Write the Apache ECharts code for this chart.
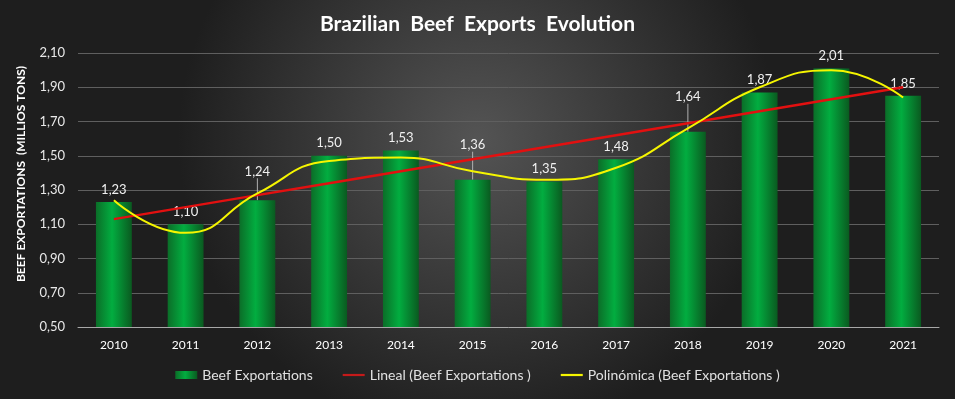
<!DOCTYPE html>
<html>
<head>
<meta charset="utf-8">
<script src="https://cdn.jsdelivr.net/npm/echarts@6/dist/echarts.min.js"></script>
<style>
  html, body { margin: 0; padding: 0; background: #222; }
  #chart { width: 955px; height: 399px; }
</style>
</head>
<body>
<div id="chart"></div>
<script>
var years = ["2010", "2011", "2012", "2013", "2014", "2015", "2016", "2017", "2018", "2019", "2020", "2021"];
var exports = [1.23, 1.10, 1.24, 1.50, 1.53, 1.36, 1.35, 1.48, 1.64, 1.87, 2.01, 1.85];
// trend lines
var linealTrend = [1.13, 1.20, 1.27, 1.34, 1.41, 1.48, 1.55, 1.62, 1.69, 1.76, 1.83, 1.90];
var polyTrend = [1.24, 1.05, 1.28, 1.47, 1.49, 1.41, 1.36, 1.43, 1.66, 1.90, 2.00, 1.84];
var yTicks = [0.5, 0.7, 0.9, 1.1, 1.3, 1.5, 1.7, 1.9, 2.1];

var fmt = function (v) { return Number(v).toFixed(2).replace(".", ","); };
var font = "Lato, 'Open Sans', sans-serif";
var lineIcon = "path://M0 0H30V3H0Z";

// labels that are pushed up with a leader line
var raised = { 2: -16, 5: -22, 8: -22 };

var chart = echarts.init(document.getElementById("chart"));
var barColor = new echarts.graphic.LinearGradient(0, 0, 1, 0, [
  { offset: 0, color: "#0b6e28" },
  { offset: 0.45, color: "#02ad40" },
  { offset: 1, color: "#0a5a20" }
]);

var barData = exports.map(function (v, i) {
  return { value: v, labelLine: { show: raised[i] != null } };
});

var option = {
  backgroundColor: {
    type: "radial", x: 0.5, y: 0.35, r: 0.75,
    colorStops: [
      { offset: 0, color: "#545454" },
      { offset: 1, color: "#1e1e1e" }
    ]
  },
  animation: false,
  title: {
    text: "Brazilian  Beef  Exports  Evolution",
    left: "center",
    top: 9,
    textStyle: { color: "#fff", fontSize: 21, fontWeight: "bold", fontFamily: font }
  },
  graphic: [{
    type: "text",
    x: 21,
    y: 174,
    rotation: Math.PI / 2,
    style: {
      text: "BEEF EXPORTATIONS  (MILLIOS TONS)",
      fill: "#fff",
      font: "bold 12px " + font,
      align: "center",
      verticalAlign: "middle"
    }
  }],
  grid: { left: 78, right: 16, top: 53, bottom: 72 },
  legend: {
    bottom: 12,
    left: "center",
    itemGap: 30,
    itemWidth: 22,
    itemHeight: 8,
    textStyle: { color: "#e0e0e0", fontSize: 14, fontFamily: font },
    data: [
      { name: "Beef Exportations", icon: "rect" },
      { name: "Lineal (Beef Exportations )", icon: lineIcon },
      { name: "Polinómica (Beef Exportations )", icon: lineIcon }
    ]
  },
  xAxis: {
    type: "category",
    data: years,
    axisTick: { show: false },
    axisLine: { lineStyle: { color: "#a8a8a8", width: 1 } },
    axisLabel: { color: "#fff", fontSize: 12, margin: 12, fontFamily: font }
  },
  yAxis: {
    type: "value",
    min: yTicks[0],
    max: yTicks[yTicks.length - 1],
    interval: 0.2,
    axisLine: { show: false },
    axisTick: { show: false },
    axisLabel: { color: "#e8e8e8", fontSize: 13, margin: 13, fontFamily: font, formatter: fmt },
    splitLine: { lineStyle: { color: "#5f5f5f", width: 1 } }
  },
  series: [
    {
      name: "Beef Exportations",
      type: "bar",
      data: barData,
      barWidth: "50%",
      itemStyle: { color: barColor },
      label: {
        show: true,
        position: "top",
        distance: 6,
        color: "#f0f0f0",
        fontSize: 13,
        fontFamily: font,
        formatter: function (p) { return fmt(p.value); }
      },
      labelLine: { lineStyle: { color: "#b0b0b0", width: 1 } },
      labelLayout: function (p) {
        return raised[p.dataIndex] != null ? { dy: raised[p.dataIndex] } : {};
      },
      z: 1
    },
    {
      name: "Lineal (Beef Exportations )",
      type: "line",
      data: linealTrend,
      showSymbol: false,
      lineStyle: { color: "#e21010", width: 2.5 },
      itemStyle: { color: "#c41a1a" },
      z: 3
    },
    {
      name: "Polinómica (Beef Exportations )",
      type: "line",
      data: polyTrend,
      smooth: 0.5,
      showSymbol: false,
      lineStyle: { color: "#f5f500", width: 2 },
      itemStyle: { color: "#f5f500" },
      z: 4
    }
  ]
};
chart.setOption(option);
</script>
</body>
</html>
